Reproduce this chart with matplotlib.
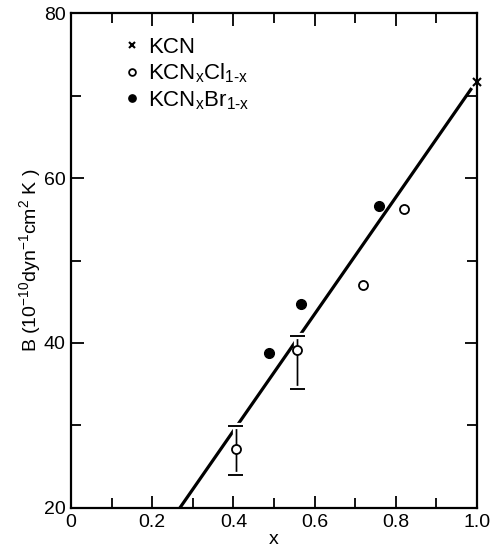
import numpy as np
import matplotlib.pyplot as plt
import matplotlib.patheffects as pe

plt.rcParams['font.family'] = ['Liberation Sans', 'DejaVu Sans']
plt.rcParams['mathtext.fontset'] = 'custom'
plt.rcParams['mathtext.rm'] = 'Liberation Sans'

# data
kcn_x = [1.0]
kcn_b = [71.7]

cl_x = [0.406, 0.557, 0.718, 0.820]
cl_b = [27.2, 39.2, 47.0, 56.2]

# error bars (only the first two Cl points have them)
err_x = [0.406, 0.557]
err_b = [27.2, 39.2]
err_lo = [3.2, 4.8]
err_hi = [2.7, 1.7]

br_x = [0.488, 0.567, 0.759]
br_b = [38.75, 44.7, 56.6]

# straight line through the data
fit_x = [0.268, 0.987]
fit_b = [20.0, 70.9]

fig = plt.figure(figsize=(4.91, 5.50), dpi=100)
ax = fig.add_axes([0.1446, 0.0764, 0.8269, 0.8999])

ax.plot(fit_x, fit_b, color='black', lw=2.3, solid_capstyle='butt', zorder=2)

eb = ax.errorbar(err_x, err_b, yerr=[err_lo, err_hi], fmt='none', ecolor='black',
                 elinewidth=1.0, capsize=5.5, capthick=1.1, zorder=3)
for art in list(eb.lines[1]) + list(eb.lines[2]):
    art.set_path_effects([pe.withStroke(linewidth=4.5, foreground='white'), pe.Normal()])

ax.plot(kcn_x, kcn_b, ls='none', marker='x', ms=6, mew=1.5, color='black',
        label='KCN', zorder=4, clip_on=False)
ax.plot(cl_x, cl_b, ls='none', marker='o', ms=6.5, mew=1.3, mfc='white', mec='black',
        label=r'KCN$_{\mathregular{x}}$Cl$_{\mathregular{1\text{-}x}}$', zorder=4)
ax.plot(br_x, br_b, ls='none', marker='o', ms=7, color='black',
        label=r'KCN$_{\mathregular{x}}$Br$_{\mathregular{1\text{-}x}}$', zorder=4)

leg = ax.legend(loc='upper left', bbox_to_anchor=(0.103, 0.975), frameon=False,
                fontsize=16, handlelength=0.7, handletextpad=0.4, labelspacing=0.18,
                borderpad=0, markerscale=0.75)

ax.set_xlim(0, 1.0)
ax.set_ylim(20, 80)
ax.set_xticks([0, 0.2, 0.4, 0.6, 0.8, 1.0])
ax.set_xticklabels(['0', '0.2', '0.4', '0.6', '0.8', '1.0'])
ax.set_xticks(np.arange(0.1, 1.0, 0.2), minor=True)
ax.set_yticks([20, 40, 60, 80])
ax.set_yticks([30, 50, 70], minor=True)

ax.tick_params(which='both', direction='in', top=True, right=True, width=1.3,
               labelsize=14, pad=4)
ax.tick_params(which='major', length=9)
ax.tick_params(which='minor', length=7)
for s in ax.spines.values():
    s.set_linewidth(1.6)

ax.set_xlabel('x', fontsize=14, labelpad=0)
ax.set_ylabel(r'B (10$^{\mathregular{-10}}$dyn$^{\mathregular{-1}}$cm$^{\mathregular{2}}$ K )',
              fontsize=14, labelpad=0)

fig.savefig('out.png', dpi=100)
